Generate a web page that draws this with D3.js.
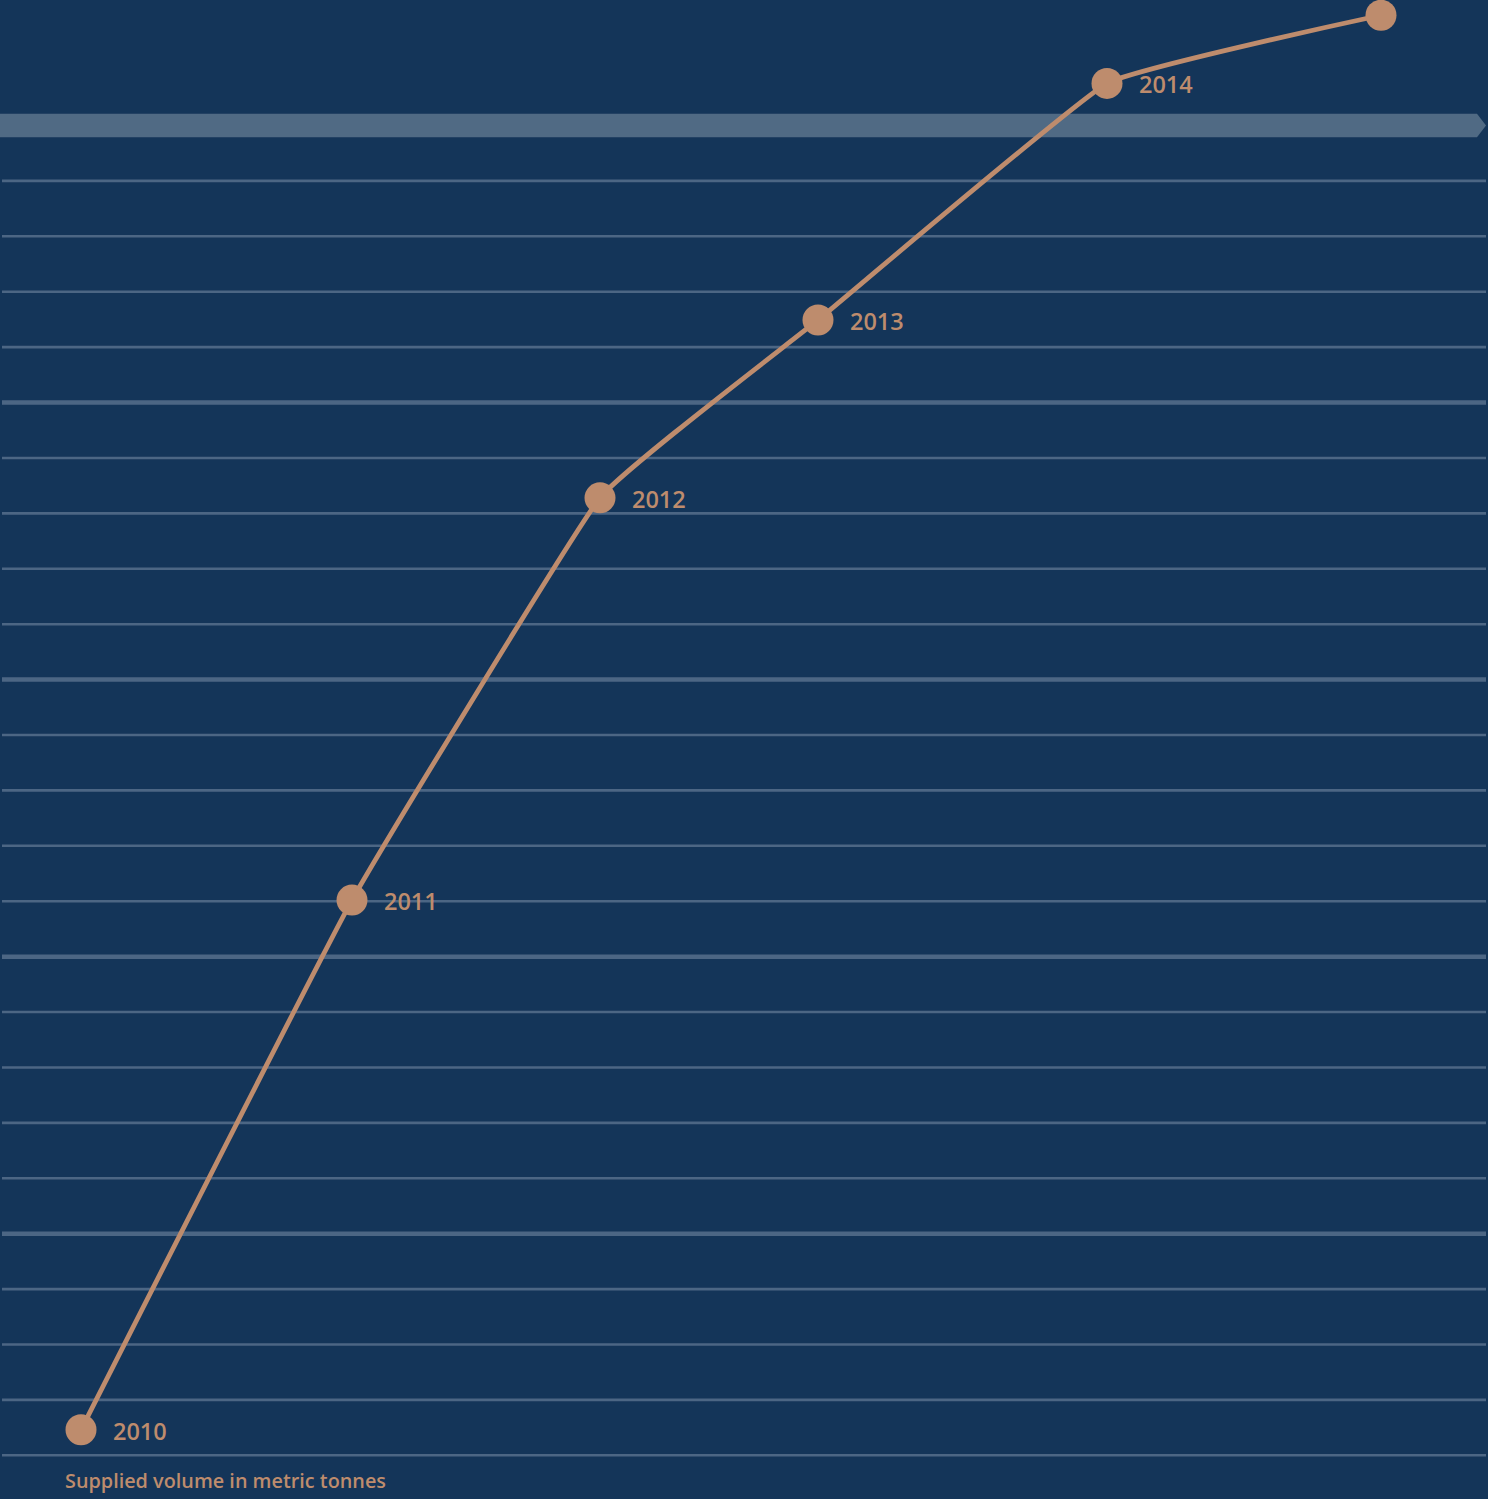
<!DOCTYPE html>
<html>
<head>
<meta charset="utf-8">
<script src="https://cdn.jsdelivr.net/npm/d3@7"></script>
<style>
  html, body { margin: 0; padding: 0; background: #143559; }
  svg { display: block; }
</style>
</head>
<body>
<svg id="chart" width="1488" height="1499"></svg>
<script>
// ---- data ----
const years = ["2010", "2011", "2012", "2013", "2014", "2015"];
const showLabel = [true, true, true, true, true, false];
// horizontal measure (relative units)
const xValues = [0, 271, 519, 737, 1026, 1300];
// supplied volume in metric tonnes
const volumes = [1460, 11020, 18280, 21490, 25760, 26990];
// gridline values (every 1,000 tonnes); the top one is the highlighted band
const gridValues = d3.range(1000, 25001, 1000);
const majorEvery = 5000;
const bandValue = 25000;
const caption = "Supplied volume in metric tonnes";

// ---- layout ----
const W = 1488, H = 1499;
const svg = d3.select("#chart");
const bg = "#143559", gridColor = "#4c6684", bandColor = "#506a84", tan = "#be8c6d";

svg.append("rect").attr("width", W).attr("height", H).attr("fill", bg);

const x = d3.scaleLinear().domain([0, 1300]).range([81, 1381]);
const y = d3.scaleLinear().domain([1000, 25000]).range([1455.3, 125.5]);

// gridlines
const grid = svg.append("g");
gridValues.forEach(v => {
  if (v === bandValue) return;
  const major = v % majorEvery === 0;
  grid.append("line")
    .attr("x1", 2).attr("x2", 1486)
    .attr("y1", y(v)).attr("y2", y(v))
    .attr("stroke", gridColor)
    .attr("stroke-width", major ? 4.5 : 2.6);
});

// highlighted band with arrow tip
const by = y(bandValue);
svg.append("path")
  .attr("d", `M0,${by - 11.7} L1477,${by - 11.7} L1486,${by} L1477,${by + 11.7} L0,${by + 11.7} Z`)
  .attr("fill", bandColor);

// data
const data = years.map((yr, i) => ({ year: yr, xv: xValues[i], v: volumes[i], label: showLabel[i] }));

const line = d3.line()
  .x(d => x(d.xv))
  .y(d => y(d.v))
  .curve(d3.curveCardinal.tension(0.7));

svg.append("path")
  .datum(data)
  .attr("d", line)
  .attr("fill", "none")
  .attr("stroke", tan)
  .attr("stroke-width", 4.8)
  .attr("stroke-linejoin", "round");

svg.selectAll("circle.pt")
  .data(data)
  .join("circle")
  .attr("class", "pt")
  .attr("cx", d => x(d.xv))
  .attr("cy", d => y(d.v))
  .attr("r", 15.5)
  .attr("fill", tan);

svg.selectAll("text.yr")
  .data(data.filter(d => d.label))
  .join("text")
  .attr("class", "yr")
  .attr("x", d => x(d.xv) + 32)
  .attr("y", d => y(d.v) + 10)
  .attr("fill", tan)
  .attr("font-family", "'Open Sans', sans-serif")
  .attr("font-weight", 600)
  .attr("font-size", 23.5)
  .text(d => d.year);

svg.append("text")
  .attr("x", 65)
  .attr("y", 1488)
  .attr("fill", tan)
  .attr("font-family", "'Open Sans', sans-serif")
  .attr("font-weight", 600)
  .attr("font-size", 19.5)
  .attr("textLength", 321)
  .attr("lengthAdjust", "spacingAndGlyphs")
  .text(caption);
</script>
</body>
</html>
